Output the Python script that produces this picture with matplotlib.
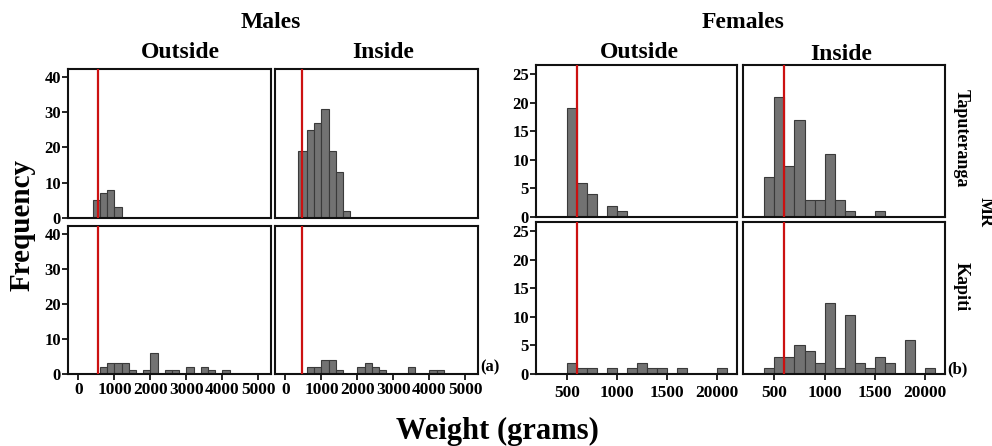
import numpy as np
import matplotlib
matplotlib.use("Agg")
import matplotlib.pyplot as plt

# ---------------- data ----------------
# Males (bin width 200 g); edges and counts per panel
m_out_tap_edges = [400, 600, 800, 1000, 1200]
m_out_tap_counts = [5, 7, 8, 3]

m_in_tap_edges = [350, 600, 800, 1000, 1200, 1400, 1600, 1800]
m_in_tap_counts = [19, 25, 27, 31, 19, 13, 2]

m_out_kap_edges = [600, 800, 1000, 1200, 1400, 1600, 1800, 2000, 2200, 2400, 2600,
                   2800, 3000, 3200, 3400, 3600, 3800, 4000, 4200]
m_out_kap_counts = [2, 3, 3, 3, 1, 0, 1, 6, 0, 1, 1, 0, 2, 0, 2, 1, 0, 1]

m_in_kap_edges = [600, 800, 1000, 1200, 1400, 1600, 1800, 2000, 2200, 2400, 2600,
                  2800, 3000, 3200, 3400, 3600, 3800, 4000, 4200, 4400]
m_in_kap_counts = [2, 2, 4, 4, 1, 0, 0, 2, 3, 2, 1, 0, 0, 0, 2, 0, 0, 1, 1]

# Females (bin width 100 g)
f_out_tap_edges = [500, 600, 700, 800, 900, 1000, 1100]
f_out_tap_counts = [19, 6, 4, 0, 2, 1]

f_in_tap_edges = [400, 500, 600, 700, 800, 900, 1000, 1100, 1200, 1300, 1400, 1500, 1600]
f_in_tap_counts = [7, 21, 9, 17, 3, 3, 11, 3, 1, 0, 0, 1]

f_out_kap_edges = [500, 600, 700, 800, 900, 1000, 1100, 1200, 1300, 1400, 1500,
                   1600, 1700, 1800, 1900, 2000, 2100]
f_out_kap_counts = [2, 1, 1, 0, 1, 0, 1, 2, 1, 1, 0, 1, 0, 0, 0, 1]

f_in_kap_edges = [400, 500, 600, 700, 800, 900, 1000, 1100, 1200, 1300, 1400, 1500,
                  1600, 1700, 1800, 1900, 2000, 2100]
f_in_kap_counts = [1, 3, 3, 5, 4, 2, 12.4, 1, 10.3, 2, 1, 3, 2, 0, 6, 0, 1]

# reference (red) lines
m_out_ref = 550
m_in_ref = 470
f_ref = 600

m_xticks = [0, 1000, 2000, 3000, 4000, 5000]
m_xticklabels = ["0", "1000", "2000", "3000", "4000", "5000"]
m_yticks = [0, 10, 20, 30, 40]
f_xticks = [500, 1000, 1500, 2000]
f_xticklabels = ["500", "1000", "1500", "20000"]
f_yticks = [0, 5, 10, 15, 20, 25]

# ---------------- style ----------------
plt.rcParams['font.family'] = ['Liberation Serif', 'DejaVu Serif']
plt.rcParams['font.weight'] = 'bold'

W, H = 992, 446
fig = plt.figure(figsize=(W / 100, H / 100), dpi=100)


def px_axes(x0, y0, x1, y1):
    return fig.add_axes([x0 / W, 1 - y1 / H, (x1 - x0) / W, (y1 - y0) / H])


BAR = '#727272'
EDGE = '#3a3a3a'
RED = '#cc1111'


def panel(ax, edges, counts, ref, xlim, ylim, xticks, xlabels, yticks, show_x, show_y, xpad):
    edges = np.asarray(edges, float)
    counts = np.asarray(counts, float)
    lefts = edges[:-1]
    widths = np.diff(edges)
    m = counts > 0
    ax.bar(lefts[m], counts[m], width=widths[m], align='edge', color=BAR,
           edgecolor=EDGE, linewidth=0.8, zorder=2)
    ax.axvline(ref, color=RED, linewidth=1.6, zorder=3)
    ax.set_xlim(*xlim)
    ax.set_ylim(*ylim)
    for s in ax.spines.values():
        s.set_linewidth(1.5)
        s.set_color('#111111')
    ax.tick_params(axis='y', direction='out', length=4, width=1.2, labelsize=12, pad=1)
    ax.tick_params(axis='x', direction='out', length=4, width=1.2, labelsize=12.5, pad=xpad)
    if show_x:
        ax.set_xticks(xticks)
        ax.set_xticklabels(xlabels, fontweight='bold')
    else:
        ax.set_xticks([])
    if show_y:
        ax.set_yticks(yticks)
        ax.set_yticklabels([str(t) for t in yticks], fontweight='bold')
    else:
        ax.set_yticks([])


m_xlim = (-290, 5350)
m_ylim = (0, 42.2)
f_xlim = (187, 2200)
f_ylim = (0, 26.6)

ax = px_axes(68, 69, 271, 218)
panel(ax, m_out_tap_edges, m_out_tap_counts, m_out_ref, m_xlim, m_ylim,
      m_xticks, m_xticklabels, m_yticks, False, True, 2)
ax = px_axes(275, 69, 478, 218)
panel(ax, m_in_tap_edges, m_in_tap_counts, m_in_ref, m_xlim, m_ylim,
      m_xticks, m_xticklabels, m_yticks, False, False, 2)
ax = px_axes(68, 226, 271, 374)
panel(ax, m_out_kap_edges, m_out_kap_counts, m_out_ref, m_xlim, m_ylim,
      m_xticks, m_xticklabels, m_yticks, True, True, 2)
ax = px_axes(275, 226, 478, 374)
panel(ax, m_in_kap_edges, m_in_kap_counts, m_in_ref, m_xlim, m_ylim,
      m_xticks, m_xticklabels, m_yticks, True, False, 2)

ax = px_axes(536, 65, 737, 217)
panel(ax, f_out_tap_edges, f_out_tap_counts, f_ref, f_xlim, f_ylim,
      f_xticks, f_xticklabels, f_yticks, False, True, 4)
ax = px_axes(743, 65, 945, 217)
panel(ax, f_in_tap_edges, f_in_tap_counts, f_ref, f_xlim, f_ylim,
      f_xticks, f_xticklabels, f_yticks, False, False, 4)
ax = px_axes(536, 222, 737, 374)
panel(ax, f_out_kap_edges, f_out_kap_counts, f_ref, f_xlim, f_ylim,
      f_xticks, f_xticklabels, f_yticks, True, True, 4)
ax = px_axes(743, 222, 945, 374)
panel(ax, f_in_kap_edges, f_in_kap_counts, f_ref, f_xlim, f_ylim,
      f_xticks, f_xticklabels, f_yticks, True, False, 4)


def ftext(x, y, s, size, **kw):
    fig.text(x / W, 1 - y / H, s, fontsize=size, fontweight='bold',
             ha=kw.pop('ha', 'center'), va=kw.pop('va', 'center'), **kw)


ftext(271, 23, "Males", 17)
ftext(180, 52, "Outside", 17)
ftext(383, 52, "Inside", 17)
ftext(743, 23, "Females", 17)
ftext(639, 52, "Outside", 17)
ftext(841, 54, "Inside", 17)
ftext(22, 225, "Frequency", 21, rotation=90)
ftext(497, 431, "Weight (grams)", 22)
ftext(961, 138, "Taputeranga", 13, rotation=-90)
ftext(961, 287, "Kapiti", 13, rotation=-90)
ftext(985, 212, "MR", 13, rotation=-90)
ftext(480, 367, "(a)", 12, ha='left')
ftext(947, 369, "(b)", 12, ha='left')

fig.savefig("out.png", dpi=100)
